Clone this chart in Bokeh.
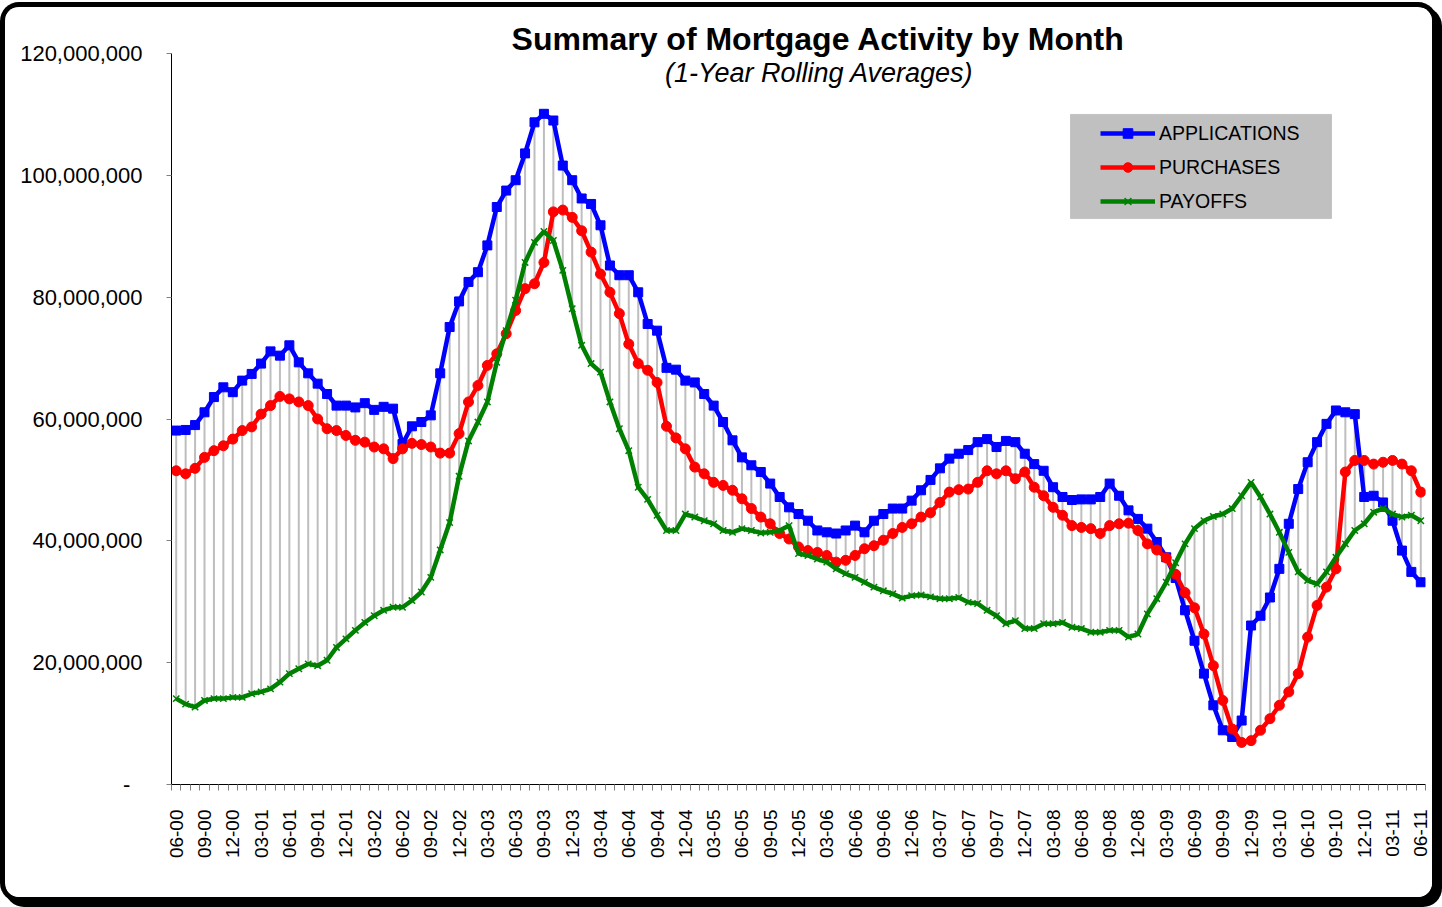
import math
from bokeh.plotting import figure
from bokeh.models import (Range1d, FixedTicker, Legend, LegendItem, BoxAnnotation,
                          ColumnDataSource, NumeralTickFormatter, Label)
from bokeh.embed import file_html
from bokeh.resources import INLINE

# ---- categories: months 06-00 .. 06-11 ----
all_months = [f"{m:02d}-{y:02d}" for y in range(0, 12) for m in range(1, 13)]
months = all_months[all_months.index("06-00"): all_months.index("06-11") + 1]

# ---- series values (millions) ----
applications = [
    58.1, 58.2, 59.0, 61.1, 63.6, 65.2, 64.4, 66.3, 67.4, 69.1, 71.1, 70.4,
    72.1, 69.3, 67.5, 65.8, 64.1, 62.2, 62.2, 61.9, 62.6, 61.5, 62.0, 61.7,
    55.9, 58.8, 59.5, 60.6, 67.5, 75.1, 79.3, 82.5, 84.1, 88.5, 94.8, 97.5,
    99.2, 103.6, 108.7, 110.1, 109.0, 101.6, 99.2, 96.2, 95.3, 91.8, 85.2, 83.6,
    83.6, 80.8, 75.6, 74.5, 68.4, 68.1, 66.3, 66.0, 64.1, 62.2, 59.5, 56.5,
    53.7, 52.4, 51.3, 49.4, 47.2, 45.5, 44.4, 43.3, 41.7, 41.4, 41.2, 41.7,
    42.5, 41.4, 43.3, 44.4, 45.3, 45.3, 46.6, 48.3, 50.0, 51.9, 53.5, 54.3,
    54.9, 56.2, 56.7, 55.4, 56.4, 56.2, 54.3, 52.6, 51.5, 48.8, 47.2, 46.7,
    46.8, 46.8, 47.2, 49.4, 47.4, 45.0, 43.6, 42.0, 39.8, 37.3, 33.9, 28.6,
    23.6, 18.2, 13.0, 8.9, 7.8, 10.5, 26.1, 27.7, 30.7, 35.4, 42.8, 48.5,
    52.9, 56.2, 59.2, 61.4, 61.1, 60.8, 47.2, 47.4, 46.3, 43.3, 38.4, 34.9,
    33.2,
]
purchases = [
    51.5, 51.0, 51.9, 53.7, 54.8, 55.6, 56.7, 58.1, 58.7, 60.8, 62.2, 63.7,
    63.3, 62.8, 62.2, 60.0, 58.4, 58.1, 57.3, 56.5, 56.2, 55.4, 55.1, 53.5,
    55.1, 56.0, 55.8, 55.4, 54.4, 54.4, 57.6, 62.8, 65.5, 68.8, 70.7, 74.0,
    77.8, 81.4, 82.2, 85.7, 94.0, 94.3, 93.1, 90.9, 87.4, 83.8, 80.8, 77.3,
    72.3, 69.1, 68.0, 66.0, 58.8, 56.9, 55.1, 52.1, 51.0, 49.6, 49.1, 48.3,
    46.9, 45.3, 43.9, 42.8, 41.2, 40.3, 39.0, 38.4, 38.1, 37.6, 36.5, 36.8,
    37.6, 38.7, 39.2, 40.1, 41.2, 42.2, 42.8, 43.9, 44.6, 46.3, 48.0, 48.4,
    48.5, 49.6, 51.5, 51.0, 51.5, 50.2, 51.3, 48.8, 47.4, 45.5, 44.2, 42.5,
    42.2, 42.0, 41.2, 42.5, 42.8, 42.9, 41.7, 39.5, 38.5, 37.2, 34.5, 31.5,
    29.0, 24.7, 19.5, 13.8, 9.1, 6.9, 7.2, 8.9, 10.8, 13.0, 15.2, 18.2,
    24.2, 29.4, 32.4, 35.4, 51.3, 53.2, 53.2, 52.6, 52.9, 53.2, 52.6, 51.5,
    48.0,
]
payoffs = [
    14.1, 13.2, 12.7, 13.8, 14.1, 14.1, 14.3, 14.3, 14.9, 15.2, 15.7, 16.8,
    18.2, 19.0, 19.8, 19.5, 20.4, 22.5, 23.9, 25.3, 26.6, 27.7, 28.6, 29.1,
    29.1, 30.2, 31.6, 34.0, 38.5, 43.0, 50.6, 56.4, 59.5, 62.8, 69.3, 74.5,
    79.5, 85.7, 89.0, 90.8, 89.3, 84.4, 78.1, 72.1, 69.1, 67.7, 62.8, 58.4,
    54.8, 48.8, 46.8, 44.2, 41.7, 41.7, 44.4, 43.9, 43.3, 42.8, 41.7, 41.4,
    42.0, 41.7, 41.3, 41.4, 41.7, 42.5, 37.9, 37.6, 37.0, 36.5, 35.4, 34.6,
    34.0, 33.2, 32.4, 31.8, 31.3, 30.6, 31.0, 31.1, 30.8, 30.5, 30.5, 30.7,
    29.9, 29.7, 28.6, 27.7, 26.4, 26.9, 25.6, 25.6, 26.4, 26.4, 26.6, 25.8,
    25.6, 25.0, 25.0, 25.3, 25.3, 24.2, 24.7, 28.0, 30.5, 33.2, 36.4, 39.5,
    42.0, 43.3, 44.0, 44.4, 45.3, 47.4, 49.6, 47.2, 44.4, 41.4, 38.1, 34.9,
    33.5, 32.9, 34.9, 37.3, 39.5, 41.7, 42.8, 44.7, 45.3, 44.4, 43.9, 44.2,
    43.3,
]
series_names = ["APPLICATIONS", "PURCHASES", "PAYOFFS"]
y_ticks = [0, 20e6, 40e6, 60e6, 80e6, 100e6, 120e6]
label_step = 3

assert len(applications) == len(purchases) == len(payoffs) == len(months) == 133

UNIT = 1e6
xs = list(range(len(months)))
app = [v * UNIT for v in applications]
pur = [v * UNIT for v in purchases]
pay = [v * UNIT for v in payoffs]
lo = [min(a, b, c) for a, b, c in zip(app, pur, pay)]
hi = [max(a, b, c) for a, b, c in zip(app, pur, pay)]

src = ColumnDataSource(dict(x=xs, app=app, pur=pur, pay=pay, lo=lo, hi=hi))

FONT = "Liberation Sans"
# frame: y=0 at 784px, 120M at 53px, top of frame at 12px
y_top = 120e6 * (784 - 12) / (784 - 53)

p = figure(width=1427, height=890, output_backend="svg", toolbar_location=None,
           title=None,
           x_range=Range1d(-0.5, len(months) - 0.5), y_range=Range1d(0, y_top),
           min_border_left=166, min_border_right=7, min_border_top=5,
           min_border_bottom=113)
p.styles = {"margin-left": "5px", "margin-top": "7px",
            "border-radius": "14px", "overflow": "hidden",
            "box-shadow": "0 0 0 5px black, 5px 5px 0 5px black"}
p.background_fill_color = "white"
p.border_fill_color = "white"
p.outline_line_color = None
p.xgrid.visible = False
p.ygrid.visible = False

# high-low drop lines
p.segment(x0="x", y0="lo", x1="x", y1="hi", source=src,
          line_color="#BEBEBE", line_width=2)

r1l = p.line("x", "app", source=src, line_color="#0000FF", line_width=4.5)
r1m = p.scatter("x", "app", source=src, marker="square", size=9,
                fill_color="#0000FF", line_color="#0000FF")
r2l = p.line("x", "pur", source=src, line_color="#FF0000", line_width=4.5)
r2m = p.scatter("x", "pur", source=src, marker="circle", size=10,
                fill_color="#FF0000", line_color="#FF0000")
r3l = p.line("x", "pay", source=src, line_color="#008000", line_width=4.5)
r3m = p.scatter("x", "pay", source=src, marker="x", size=9,
                line_color="#008000", line_width=1.5)

# x axis
p.xaxis.ticker = FixedTicker(ticks=list(range(0, len(months), label_step)),
                             minor_ticks=[i - 0.5 for i in range(len(months) + 1)])
p.xaxis.major_label_overrides = {i: months[i] for i in range(0, len(months), label_step)}
p.xaxis.major_label_orientation = math.pi / 2
p.xaxis.major_tick_out = 0
p.xaxis.major_tick_in = 0
p.xaxis.minor_tick_out = 6
p.xaxis.minor_tick_in = 0
p.xaxis.minor_tick_line_color = "#808080"
p.xaxis.major_label_standoff = 19
p.xaxis.major_label_text_font = FONT
p.xaxis.major_label_text_font_size = "19px"
p.xaxis.major_label_text_color = "black"
p.xaxis.axis_line_color = "black"

# y axis
p.yaxis.ticker = FixedTicker(ticks=y_ticks, minor_ticks=[])
p.yaxis.formatter = NumeralTickFormatter(format="0,0")
p.yaxis.major_label_overrides = {0: "-\u00a0\u00a0"}
p.yaxis.bounds = (0, 120e6)
p.yaxis.major_tick_out = 5
p.yaxis.major_tick_in = 0
p.yaxis.major_tick_line_color = "#808080"
p.yaxis.minor_tick_out = 0
p.yaxis.minor_tick_in = 0
p.yaxis.major_label_standoff = 24
p.yaxis.major_label_text_font = FONT
p.yaxis.major_label_text_font_size = "22px"
p.yaxis.major_label_text_color = "black"
p.yaxis.axis_line_color = "black"

# titles
p.add_layout(Label(x=68.1, y=122.46e6, text="Summary of Mortgage Activity by Month",
                   text_font=FONT, text_font_style="bold", text_font_size="32px",
                   text_align="center", text_baseline="middle", text_color="black"))
p.add_layout(Label(x=68.2, y=116.88e6, text="(1-Year Rolling Averages)",
                   text_font=FONT, text_font_style="italic", text_font_size="27px",
                   text_align="center", text_baseline="middle", text_color="black"))

# legend box + legend
p.add_layout(BoxAnnotation(left=94.85, right=122.53, top=110.0e6, bottom=92.9e6,
                           fill_color="#C0C0C0", fill_alpha=1.0,
                           line_color="#808080", line_width=1, level="annotation"))
legend = Legend(items=[LegendItem(label=series_names[0], renderers=[r1l, r1m]),
                       LegendItem(label=series_names[1], renderers=[r2l, r2m]),
                       LegendItem(label=series_names[2], renderers=[r3l, r3m])],
                location=(929, 571), padding=0, spacing=10, margin=0,
                glyph_width=55, glyph_height=24, label_height=24,
                label_standoff=4, label_text_font=FONT,
                label_text_font_size="19.5px", label_text_color="black",
                background_fill_alpha=0, border_line_alpha=0)
p.add_layout(legend, "center")

open("out.html", "w").write(file_html(p, INLINE))
